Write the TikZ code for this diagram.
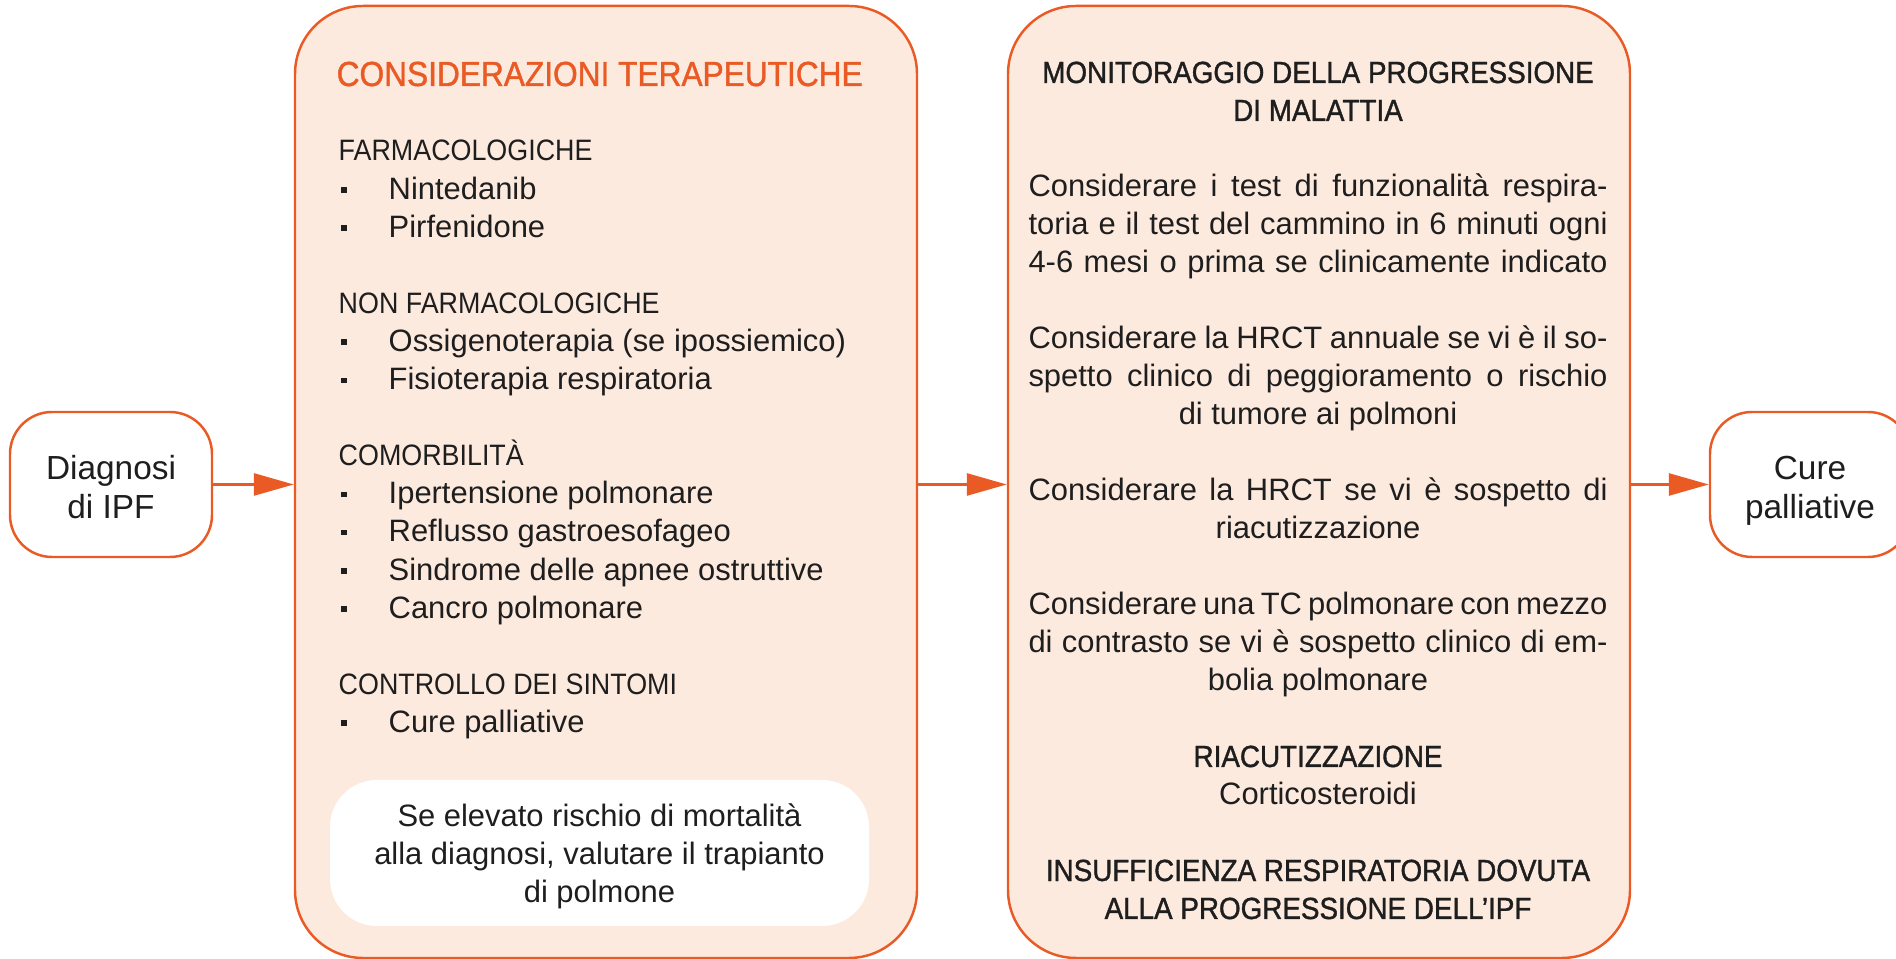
\documentclass[tikz,border=0pt]{standalone}
\usepackage{fontspec}
\setmainfont{Liberation Sans}
\newfontfamily\capsfont[FakeStretch=0.91]{Liberation Sans}
\newfontfamily\capsboldfont[FakeStretch=0.91,FakeBold=1.2]{Liberation Sans}
\usetikzlibrary{arrows.meta,positioning}
\definecolor{ink}{HTML}{1E1E1E}
\definecolor{flame}{HTML}{E95A24}
\definecolor{peach}{HTML}{FDEADF}
\newcommand{\bodysize}{\fontsize{8.8}{10.84}\selectfont}

\begin{document}
\begin{tikzpicture}[x=1cm,y=1cm,
  pill/.style={draw=flame,line width=0.7pt,fill=white,rounded corners=0.42cm,minimum width=2.02cm,minimum height=1.45cm,align=center,text=ink,font=\fontsize{9.5}{11.05}\selectfont},
  panel/.style={draw=flame,line width=0.7pt,fill=peach,rounded corners=0.68cm,minimum width=6.22cm,minimum height=9.52cm},
  note/.style={fill=white,rounded corners=0.47cm,minimum width=5.39cm,minimum height=1.46cm,align=center,text=ink,font=\bodysize},
  txt/.style={text=ink,inner sep=0pt,font=\bodysize},
  caps/.style={text=ink,inner sep=0pt,font=\capsfont\fontsize{8.4}{10.84}\selectfont},
  head/.style={text=ink,inner sep=0pt,font=\capsboldfont\fontsize{8.7}{10.84}\selectfont},
  flow/.style={draw=flame,line width=0.8pt,-{Triangle[length=0.4cm,width=0.22cm]}}]
\useasboundingbox (0,0) rectangle (18.96,9.59);
% boxes
\node[pill] (diag) at (1.11,4.745) {\rule{0pt}{0.29cm}Diagnosi\\di IPF};
\node[panel] (cons) at (6.06,4.77) {};
\node[panel] (mon) at (13.19,4.77) {};
\node[pill,minimum width=2.0cm] (cure) at (18.10,4.745) {\rule{0pt}{0.36cm}Cure\\palliative};
% therapy panel
\node[head,text=flame,anchor=base west,font=\capsboldfont\fontsize{9.9}{12}\selectfont] (title) at (3.36,8.73) {CONSIDERAZIONI TERAPEUTICHE};
\foreach \k/\t in {0/FARMACOLOGICHE,4/NON FARMACOLOGICHE,8/COMORBILITÀ,14/CONTROLLO DEI SINTOMI}
  \node[caps,anchor=base west] (grp\k) at (3.38,{7.98-0.381*\k}) {\t};
\foreach \k/\t in {1/Nintedanib,2/Pirfenidone,5/Ossigenoterapia (se ipossiemico),6/Fisioterapia respiratoria,9/Ipertensione polmonare,10/Reflusso gastroesofageo,11/Sindrome delle apnee ostruttive,12/Cancro polmonare,15/Cure palliative}{
  \node[txt,anchor=base west] (item\k) at (3.88,{7.98-0.381*\k}) {\t};
  \fill[ink] (3.41,{7.98-0.381*\k+0.065}) rectangle ++(0.055,0.055);
}
\node[note] (trap) at (5.995,1.06) {\rule{0pt}{0.3cm}Se elevato rischio di mortalità\\alla diagnosi, valutare il trapianto\\di polmone};
% monitoring panel
\foreach \k/\t in {0/MONITORAGGIO DELLA PROGRESSIONE,1/DI MALATTIA,18/RIACUTIZZAZIONE,21/INSUFFICIENZA RESPIRATORIA DOVUTA,22/ALLA PROGRESSIONE DELL’IPF}
  \node[head,anchor=base] (mh\k) at (13.18,{8.76-0.38*\k}) {\t};
\foreach \k/\t in {3/Considerare i test di funzionalità respira-,4/toria e il test del cammino in 6 minuti ogni,5/4-6 mesi o prima se clinicamente indicato,7/Considerare la HRCT annuale se vi è il so-,8/spetto clinico di peggioramento o rischio,11/Considerare la HRCT se vi è sospetto di,14/Considerare una TC polmonare con mezzo,15/di contrasto se vi è sospetto clinico di em-}
  \node[txt,anchor=base] (mj\k) at (13.18,{8.76-0.38*\k}) {\makebox[5.79cm][s]{\t}};
\foreach \k/\t in {9/di tumore ai polmoni,12/riacutizzazione,16/bolia polmonare,19/Corticosteroidi}
  \node[txt,anchor=base] (mc\k) at (13.18,{8.76-0.38*\k}) {\t};
% connectors
\draw[flow] (diag.east) -- (diag.east -| cons.west);
\draw[flow] (cons.east |- diag.east) -- (mon.west |- diag.east);
\draw[flow] (mon.east |- diag.east) -- (cure.west);
\end{tikzpicture}
\end{document}
